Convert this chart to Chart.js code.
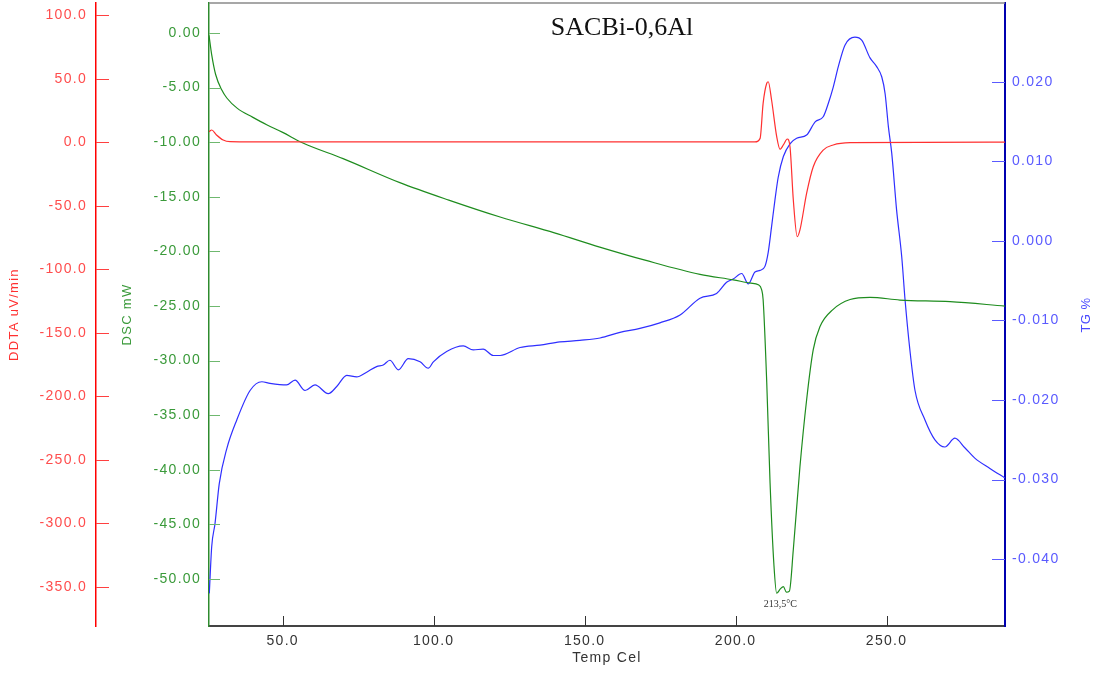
<!DOCTYPE html>
<html>
<head>
<meta charset="utf-8">
<title>SACBi-0,6Al</title>
<script src="https://cdn.jsdelivr.net/npm/chart.js@4.4.1/dist/chart.umd.min.js"></script>
<style>
  html, body { margin: 0; padding: 0; background: #fff; }
  #canvas { display: block; }
</style>
</head>
<body>
<canvas id="canvas" width="1104" height="675"></canvas>
<script>
/* global Chart */
(() => {
	const FONT = '"Liberation Sans", Arial, sans-serif';

	// DDTA, uV/min
	const ddtaTemp = [25.6, 26.5, 28.0, 30.3, 32.6, 40.0, 206.4, 208.1, 209.1, 210.3, 210.8, 211.9, 213.6, 214.7, 215.8, 217.1, 218.0, 219.1, 220.4, 221.3, 223.5, 225.7, 229.0, 232.3, 237.9, 289.2];
	const ddtaValues = [8.3, 9.7, 6.0, 1.8, 0.5, 0.3, 0.3, 3.1, 30.7, 46.5, 47.7, 33.3, 4.4, -5.5, -2.1, 2.6, -3.5, -45.4, -74.3, -69.0, -40.2, -19.2, -6.1, -2.1, -0.3, 0.2];

	// DSC, mW
	const dscTemp = [25.6, 26.5, 27.8, 29.8, 31.5, 35.0, 40.0, 44.7, 50.0, 56.7, 70.0, 88.8, 105.0, 122.0, 140.0, 155.0, 170.0, 188.2, 199.2, 205.0, 207.5, 208.6, 209.1, 210.3, 211.4, 212.7, 213.6, 214.8, 215.8, 216.8, 217.8, 219.1, 221.3, 223.5, 225.7, 227.9, 232.3, 237.9, 244.5, 254.4, 271.0, 289.2];
	const dscValues = [-0.2, -2.0, -3.8, -5.2, -5.95, -6.9, -7.7, -8.4, -9.1, -10.07, -11.5, -13.7, -15.3, -16.85, -18.3, -19.6, -20.8, -22.1, -22.6, -22.9, -23.05, -23.5, -24.4, -32.0, -41.2, -48.8, -51.3, -50.9, -50.7, -51.2, -51.1, -47.3, -39.7, -33.6, -29.0, -26.9, -25.3, -24.4, -24.2, -24.45, -24.6, -25.0];

	// TG, %
	const tgTemp = [25.7, 26.5, 27.6, 29.0, 31.5, 34.8, 39.2, 43.1, 45.8, 51.3, 54.1, 57.4, 60.7, 65.1, 67.9, 71.2, 74.5, 77.8, 81.1, 83.3, 85.5, 88.3, 91.6, 95.5, 98.2, 99.9, 104.3, 109.8, 113.1, 116.4, 119.7, 122.0, 128.6, 135.2, 141.8, 148.4, 155.1, 161.7, 168.3, 174.9, 181.6, 188.2, 193.7, 197.0, 199.2, 202.0, 204.2, 206.4, 208.1, 209.7, 210.8, 211.9, 213.0, 214.1, 215.8, 218.0, 220.2, 223.5, 226.4, 229.0, 230.7, 232.3, 234.0, 236.2, 239.5, 241.8, 244.5, 246.7, 248.4, 249.5, 250.6, 251.7, 253.3, 255.0, 256.1, 257.7, 259.4, 262.7, 266.0, 269.3, 272.6, 275.9, 279.2, 284.2, 289.2];
	const tgValues = [-0.0443, -0.0384, -0.0355, -0.0305, -0.0261, -0.0225, -0.0188, -0.0177, -0.0179, -0.0181, -0.0175, -0.0188, -0.0181, -0.0192, -0.0183, -0.0169, -0.0171, -0.0165, -0.0158, -0.0156, -0.0150, -0.0162, -0.0148, -0.0152, -0.0160, -0.0152, -0.0139, -0.0132, -0.0137, -0.0136, -0.0144, -0.0144, -0.0134, -0.0131, -0.0127, -0.0125, -0.0122, -0.0115, -0.0110, -0.0103, -0.0093, -0.0072, -0.0066, -0.0052, -0.0048, -0.0041, -0.0054, -0.0039, -0.0037, -0.0032, -0.0014, 0.0018, 0.0051, 0.0080, 0.0106, 0.0122, 0.0129, 0.0133, 0.0150, 0.0156, 0.0173, 0.0193, 0.0219, 0.0246, 0.0256, 0.0252, 0.0230, 0.0219, 0.0206, 0.0185, 0.0143, 0.0110, 0.0039, -0.0020, -0.0074, -0.0137, -0.0188, -0.0225, -0.0250, -0.0259, -0.0248, -0.0260, -0.0273, -0.0286, -0.0298];

	const sampleName = 'SACBi-0,6Al';
	const peakTemp = 213.5;
	const peakLabel = '213,5°C';

	function series(temps, values) {
		return temps.map((t, i) => ({ x: t, y: values[i] }));
	}

	// fixed axis boxes; the label overhang padding would push the plot down
	function fixBox(size) {
		return s => {
			if (s.isHorizontal()) s.height = size; else s.width = size;
			s.paddingTop = 0;
			s.paddingBottom = 0;
			s.paddingLeft = 0;
			s.paddingRight = 0;
		};
	}

	// tick marks point into the plot, so they are drawn here instead of by the grid
	const inwardTicks = {
		id: 'inwardTicks',
		afterDraw(chart) {
			const { ctx, scales } = chart;
			const marks = {
				ddta: { len: 13, color: '#ff4040' },
				dsc: { len: 11, color: '#6fb86f' },
				tg: { len: 13, color: '#5a5aff' },
				x: { len: 10, color: '#333333' }
			};
			ctx.save();
			ctx.lineWidth = 1;
			Object.keys(marks).forEach(id => {
				const s = scales[id];
				const m = marks[id];
				ctx.strokeStyle = m.color;
				ctx.beginPath();
				s.ticks.forEach(t => {
					const p = Math.round(s.getPixelForValue(t.value)) + 0.5;
					if (id === 'x') {
						ctx.moveTo(p, s.top);
						ctx.lineTo(p, s.top - m.len);
					} else if (s.position === 'left') {
						ctx.moveTo(s.right, p);
						ctx.lineTo(s.right + m.len, p);
					} else {
						ctx.moveTo(s.left, p);
						ctx.lineTo(s.left - m.len, p);
					}
				});
				ctx.stroke();
			});
			ctx.restore();
		}
	};

	const extraText = {
		id: 'extraText',
		beforeDraw(chart) {
			chart.ctx.letterSpacing = '1.3px';
		},
		afterDraw(chart) {
			const { ctx, chartArea, scales } = chart;
			ctx.save();
			// frame top
			ctx.strokeStyle = '#8a8a8a';
			ctx.lineWidth = 1.5;
			ctx.beginPath();
			ctx.moveTo(chartArea.left, chartArea.top);
			ctx.lineTo(chartArea.right, chartArea.top);
			ctx.stroke();

			ctx.letterSpacing = '0px';
			ctx.fillStyle = '#111';
			ctx.font = '26px "Liberation Serif", "Times New Roman", serif';
			ctx.textAlign = 'center';
			ctx.textBaseline = 'alphabetic';
			ctx.fillText(sampleName, 622, 35);

			// peak temperature under the DSC minimum
			const minDsc = Math.min(...dscValues);
			ctx.font = '10px "Liberation Serif", "Times New Roman", serif';
			ctx.fillStyle = '#333';
			ctx.textBaseline = 'middle';
			ctx.fillText(peakLabel, scales.x.getPixelForValue(peakTemp) + 4, scales.dsc.getPixelForValue(minDsc) + 11);

			// TG title reads bottom to top like the left ones
			ctx.letterSpacing = '0.5px';
			ctx.font = '13px ' + FONT;
			ctx.fillStyle = '#4a4aff';
			ctx.translate(1086, 315);
			ctx.rotate(-Math.PI / 2);
			ctx.fillText('TG %', 0, 0);
			ctx.restore();
		}
	};

	const tickFont = { family: FONT, size: 14 };

	const ctx = document.getElementById('canvas').getContext('2d');
	new Chart(ctx, {
		type: 'line',
		data: {
			datasets: [
				{ label: 'DDTA', data: series(ddtaTemp, ddtaValues), yAxisID: 'ddta', borderColor: '#ff3030', borderWidth: 1.2, pointRadius: 0, cubicInterpolationMode: 'monotone' },
				{ label: 'DSC', data: series(dscTemp, dscValues), yAxisID: 'dsc', borderColor: '#1e8c1e', borderWidth: 1.2, pointRadius: 0, cubicInterpolationMode: 'monotone' },
				{ label: 'TG', data: series(tgTemp, tgValues), yAxisID: 'tg', borderColor: '#2f2fff', borderWidth: 1.2, pointRadius: 0, cubicInterpolationMode: 'monotone' }
			]
		},
		options: {
			responsive: false,
			animation: false,
			devicePixelRatio: 1,
			layout: { padding: { top: 3, left: 0, right: 0, bottom: 0 } },
			plugins: { legend: { display: false }, tooltip: { enabled: false } },
			scales: {
				x: {
					type: 'linear', position: 'bottom', min: 25.6, max: 289.2,
					afterFit: fixBox(49),
					grid: { display: false, drawTicks: false },
					border: { color: '#444', width: 2 },
					ticks: { stepSize: 50, includeBounds: false, padding: 7, maxRotation: 0, color: '#333', font: tickFont, callback: v => v.toFixed(1) },
					title: { display: true, text: 'Temp Cel', color: '#333', font: tickFont, padding: { top: 0, bottom: 8 } }
				},
				ddta: {
					type: 'linear', position: 'left', weight: 1, min: -380.9, max: 109.7,
					afterFit: fixBox(96),
					grid: { display: false, drawTicks: false },
					border: { color: '#ff0000', width: 1.5 },
					ticks: { stepSize: 50, includeBounds: false, padding: 9, color: '#ff4d4d', font: tickFont, callback: v => v.toFixed(1) },
					title: { display: true, text: 'DDTA uV/min', color: '#ff3030', font: { family: FONT, size: 13 }, padding: { top: 7, bottom: 0 } }
				},
				dsc: {
					type: 'linear', position: 'left', weight: 0, min: -54.3, max: 2.75,
					afterFit: fixBox(113),
					grid: { display: false, drawTicks: false },
					border: { color: '#2e8b2e', width: 1.5 },
					ticks: { stepSize: 5, includeBounds: false, padding: 8, color: '#3a9a3a', font: tickFont, callback: v => v.toFixed(2) },
					title: { display: true, text: 'DSC mW', color: '#3a9a3a', font: { family: FONT, size: 13 }, padding: { top: 24, bottom: 0 } }
				},
				tg: {
					type: 'linear', position: 'right', min: -0.0484, max: 0.0299,
					afterFit: fixBox(99),
					grid: { display: false, drawTicks: false },
					border: { color: '#0000b0', width: 2 },
					ticks: { stepSize: 0.01, includeBounds: false, padding: 7, color: '#5a5aff', font: tickFont, callback: v => v.toFixed(3) },
					title: { display: false }
				}
			}
		},
		plugins: [inwardTicks, extraText]
	});
})();
</script>
</body>
</html>
